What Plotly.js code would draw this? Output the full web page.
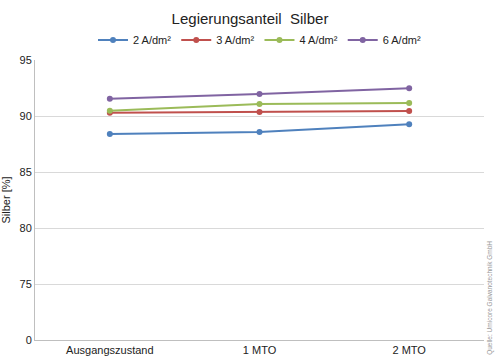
<!DOCTYPE html>
<html><head><meta charset="utf-8">
<script src="https://cdn.plot.ly/plotly-3.0.1.min.js"></script>
<style>html,body{margin:0;padding:0;background:#fff}#c{width:500px;height:363px}</style>
</head><body><div id="c"></div>
<script>
const categories = ["Ausgangszustand", "1 MTO", "2 MTO"];
const seriesNames = ["2 A/dm²", "3 A/dm²", "4 A/dm²", "6 A/dm²"];
const s2 = [88.4, 88.57, 89.26];
const s3 = [90.3, 90.36, 90.45];
const s4 = [90.47, 91.07, 91.16];
const s6 = [91.55, 91.96, 92.47];
const colors = ["#4f81bd", "#c0504d", "#9bbb59", "#8064a2"];
const tickVals = [70, 75, 80, 85, 90, 95];
const tickText = ["0", "75", "80", "85", "90", "95"];

const data = [s2, s3, s4, s6].map((v, i) => ({
  x: categories, y: v, name: seriesNames[i], type: "scatter", mode: "lines+markers",
  line: {color: colors[i], width: 2}, marker: {color: colors[i], size: 6}
}));

const layout = {
  width: 500, height: 363,
  margin: {l: 35, r: 16, t: 60, b: 23},
  paper_bgcolor: "#fff", plot_bgcolor: "#fff",
  font: {family: "Liberation Sans, Arial, sans-serif", color: "#222", size: 11},
  title: {text: "Legierungsanteil  Silber", x: 0.5, xanchor: "center", y: 0.963, yanchor: "top", font: {size: 15, color: "#222"}},
  showlegend: true,
  legend: {orientation: "h", x: 0.5, xanchor: "center", y: 1.071, yanchor: "middle", font: {size: 11}, itemwidth: 30, tracegroupgap: 0, traceorder: "normal"},
  xaxis: {type: "category", range: [-0.5, 2.5], showgrid: false, showline: true, linecolor: "#bfbfbf", ticks: "", tickfont: {size: 11}, zeroline: false, fixedrange: true},
  yaxis: {range: [70, 95], tickvals: tickVals, ticktext: tickText, showgrid: true, gridcolor: "#d9d9d9", showline: true, linecolor: "#bfbfbf", ticks: "", tickfont: {size: 11}, zeroline: false,
    title: {text: "Silber [%]", font: {size: 11}, standoff: 6}},
  annotations: [{text: "Quelle: Umicore Galvanotechnik GmbH", xref: "paper", yref: "paper", x: 1.0, y: -0.06, xanchor: "left", yanchor: "bottom", textangle: -90, showarrow: false, font: {size: 6.5, color: "#999"}}]
};
Plotly.newPlot("c", data, layout, {displayModeBar: false, staticPlot: true});
</script></body></html>
